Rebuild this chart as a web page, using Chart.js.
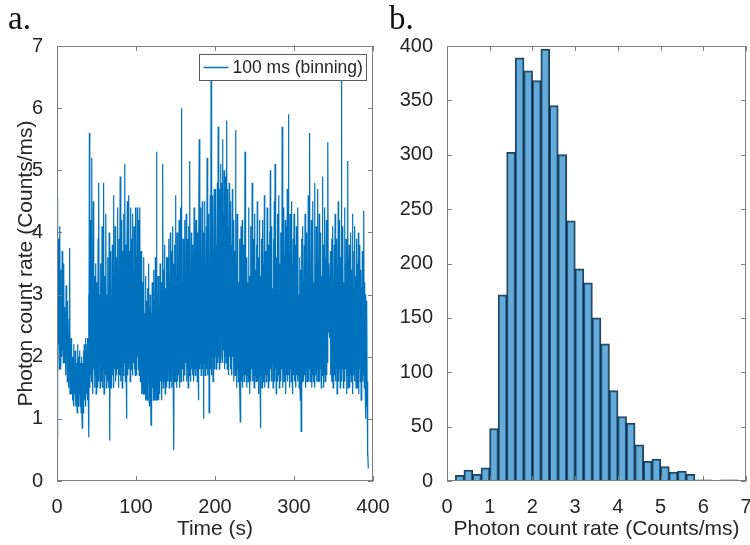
<!DOCTYPE html>
<html>
<head>
<meta charset="utf-8">
<script src="https://cdn.jsdelivr.net/npm/chart.js@4.4.1/dist/chart.umd.min.js"></script>
<style>
  html, body { margin: 0; padding: 0; background: #fff; }
  #page { position: relative; width: 750px; height: 545px; overflow: hidden; background: #fff; }
  .wrap { position: absolute; top: 0; }
  .tag { position: absolute; top: 2px; font-family: "Liberation Serif", "DejaVu Serif", serif; font-size: 33px; line-height: 33px; color: #111; }
</style>
</head>
<body>
<div id="page">
  <div class="wrap" style="left:0; width:400px; height:545px;"><canvas id="rateChart" width="400" height="545"></canvas></div>
  <div class="wrap" style="left:380px; width:370px; height:545px;"><canvas id="histChart" width="370" height="545"></canvas></div>
  <div class="tag" style="left:8px;">a.</div>
  <div class="tag" style="left:389px;">b.</div>
</div>
<script>
// photon count rate, 100 ms binning, read every 0.5 s off the trace
const sampleStep = 0.5;
const rateValues = [
  0.7, 4.55, 1.9, 3.9, 2.2, 3.0, 1.8, 4.1, 2.3, 3.4, 1.8, 2.9, 2.0, 3.7, 2.1, 3.1, 1.9, 3.5, 2.2, 2.8,
  1.9, 2.7, 1.7, 3.15, 2.0, 2.4, 1.6, 2.9, 1.8, 2.3, 1.5, 2.6, 3.75, 1.4, 2.2, 1.6, 2.3, 1.4, 2.0, 1.3,
  2.0, 1.3, 2.2, 1.2, 1.9, 1.4, 2.1, 1.2, 2.0, 1.3, 1.9, 1.1, 2.2, 1.3, 2.0, 1.2, 1.9, 1.4, 2.1, 1.2,
  1.9, 1.1, 2.0, 1.3, 0.85, 1.9, 1.1, 2.1, 1.2, 2.2, 1.3, 1.8, 2.3, 1.2, 2.1, 1.4, 2.2, 1.3, 2.3, 1.5,
  3.0, 0.7, 5.6, 1.5, 4.2, 1.7, 3.1, 1.6, 5.2, 1.9, 2.8, 1.4, 4.5, 1.8, 3.3, 1.5, 2.9, 1.7, 3.5, 1.4,
  3.2, 1.8, 2.7, 1.5, 3.9, 1.6, 4.8, 1.9, 3.0, 1.5, 3.5, 1.7, 2.8, 1.6, 4.1, 1.5, 3.1, 1.8, 4.8, 1.4,
  3.3, 1.6, 2.9, 1.7, 4.3, 1.5, 3.0, 1.8, 3.6, 1.6, 2.8, 1.5, 4.0, 1.7, 0.65, 3.2, 3.7, 1.5, 2.9, 1.6,
  3.8, 1.7, 3.1, 4.6, 1.5, 3.3, 1.8, 4.1, 1.6, 2.9, 3.6, 1.7, 3.0, 4.4, 1.8, 3.4, 1.5, 3.9, 1.7, 3.1,
  4.9, 1.6, 3.3, 1.8, 4.2, 1.5, 3.0, 3.7, 1.7, 4.3, 1.9, 3.2, 5.1, 1.6, 3.8, 1.8, 1.0, 3.4, 4.5, 1.7,
  3.5, 1.8, 4.6, 1.9, 3.7, 1.6, 3.2, 4.4, 1.8, 3.9, 2.0, 4.3, 1.7, 3.4, 1.9, 4.1, 1.8, 3.3, 1.7, 4.4,
  1.9, 3.6, 1.7, 4.4, 2.0, 3.3, 1.8, 4.2, 1.7, 3.1, 4.4, 1.6, 3.0, 3.7, 1.7, 1.4, 3.2, 1.8, 1.4, 2.9,
  3.6, 1.4, 2.7, 1.6, 3.3, 1.3, 2.9, 1.6, 1.3, 3.1, 1.5, 2.6, 3.5, 1.3, 2.8, 1.2, 3.0, 1.5, 0.9, 2.7,
  1.2, 3.2, 1.5, 2.8, 1.3, 3.4, 1.6, 2.9, 1.3, 3.6, 1.5, 1.3, 5.3, 1.4, 3.0, 1.3, 3.3, 1.6, 1.3, 2.8,
  1.4, 3.5, 1.6, 2.9, 3.2, 1.3, 3.0, 1.6, 5.1, 1.5, 3.4, 1.6, 2.8, 3.8, 1.4, 3.1, 1.6, 3.6, 1.5, 2.9,
  3.6, 1.6, 3.0, 3.9, 1.5, 3.2, 1.7, 4.0, 1.6, 3.3, 3.7, 1.5, 3.0, 4.1, 1.7, 3.5, 0.5, 3.1, 3.8, 1.6,
  4.6, 1.7, 3.3, 1.5, 4.0, 1.8, 1.6, 3.6, 1.7, 4.2, 1.5, 3.4, 1.8, 4.4, 1.6, 6.0, 1.7, 3.2, 1.8, 3.9,
  1.6, 3.4, 1.8, 4.2, 1.7, 3.1, 1.9, 4.3, 1.6, 3.5, 1.8, 3.9, 1.5, 3.2, 4.1, 1.7, 5.15, 1.8, 3.3, 1.6,
  4.0, 1.8, 3.4, 1.7, 3.8, 1.9, 1.6, 4.4, 1.8, 3.2, 1.7, 3.6, 4.2, 1.8, 3.3, 1.6, 4.0, 1.9, 1.3, 3.5,
  5.5, 1.8, 3.6, 1.9, 4.4, 1.7, 3.3, 2.0, 4.5, 1.8, 3.4, 1.0, 4.0, 1.9, 4.5, 1.7, 3.5, 2.0, 4.1, 1.8,
  5.2, 1.7, 3.7, 2.0, 4.3, 1.1, 3.5, 1.9, 4.6, 1.8, 6.45, 1.7, 3.9, 2.0, 4.6, 1.6, 3.6, 1.9, 4.7, 1.8,
  4.1, 2.0, 4.7, 1.8, 3.8, 2.1, 4.8, 1.9, 5.7, 2.0, 4.0, 1.8, 4.7, 2.1, 5.1, 1.9, 3.9, 4.8, 2.0, 5.5,
  1.9, 4.3, 2.1, 5.0, 1.8, 4.0, 2.0, 4.9, 1.9, 4.2, 5.8, 1.8, 4.7, 2.1, 4.1, 1.7, 4.8, 2.0, 3.9, 1.8,
  4.5, 1.9, 3.8, 1.7, 4.7, 2.0, 3.6, 1.6, 4.2, 1.8, 3.7, 1.7, 5.65, 1.9, 3.5, 1.5, 4.3, 1.8, 3.4, 1.6,
  3.2, 1.7, 3.9, 1.5, 0.95, 3.3, 4.1, 1.6, 3.0, 4.2, 1.5, 3.4, 1.7, 3.8, 1.6, 3.1, 5.3, 1.7, 3.5, 1.8,
  1.5, 3.6, 1.7, 3.2, 1.6, 4.4, 1.8, 3.3, 1.4, 3.0, 4.1, 1.6, 3.5, 1.8, 4.8, 1.6, 3.1, 1.7, 3.9, 1.5,
  3.0, 4.3, 1.7, 3.4, 1.6, 3.8, 1.8, 4.5, 1.6, 3.2, 1.4, 3.6, 1.7, 4.2, 1.6, 0.85, 3.3, 1.7, 3.9, 1.5,
  3.1, 4.2, 1.6, 3.5, 1.8, 4.6, 1.5, 3.2, 1.7, 3.7, 1.6, 3.0, 4.4, 1.7, 3.4, 1.5, 3.8, 1.8, 4.0, 1.6,
  5.0, 1.8, 3.4, 1.6, 4.1, 1.9, 3.1, 1.5, 3.9, 1.7, 4.5, 1.6, 5.1, 1.8, 3.3, 1.4, 3.6, 1.7, 4.3, 1.6,
  3.2, 1.7, 4.6, 1.5, 3.5, 1.8, 4.0, 1.6, 3.3, 1.8, 5.7, 1.5, 3.1, 1.7, 4.4, 1.6, 3.6, 1.8, 4.2, 1.4,
  3.0, 4.1, 1.7, 4.7, 1.6, 3.4, 5.9, 1.7, 3.7, 1.5, 4.3, 1.8, 3.2, 1.6, 4.5, 1.7, 3.5, 1.4, 3.9, 1.7,
  4.3, 1.6, 3.3, 1.8, 3.8, 1.5, 4.1, 1.7, 3.1, 1.6, 4.4, 1.7, 3.0, 1.5, 3.6, 1.8, 1.3, 3.4, 0.8, 3.0,
  3.9, 1.6, 4.1, 1.8, 3.2, 1.6, 3.8, 1.7, 4.3, 1.5, 3.4, 1.8, 4.0, 1.6, 3.1, 1.7, 4.6, 1.6, 3.7, 1.8,
  5.6, 1.6, 3.3, 1.8, 4.2, 1.5, 3.6, 1.7, 4.5, 1.6, 3.2, 1.8, 4.8, 1.5, 3.5, 1.7, 4.1, 1.6, 3.4, 1.8,
  4.7, 1.6, 3.5, 1.7, 4.3, 1.6, 3.1, 1.8, 4.0, 1.5, 3.3, 1.7, 4.9, 1.8, 3.8, 1.5, 3.2, 1.7, 4.4, 1.6,
  3.6, 1.8, 4.2, 1.7, 3.4, 1.9, 5.45, 2.4, 3.5, 2.5, 3.3, 2.3, 3.7, 1.7, 3.2, 1.6, 3.9, 1.6, 4.1, 1.5,
  3.2, 1.5, 3.8, 1.7, 4.3, 1.6, 3.3, 1.8, 3.9, 1.4, 3.4, 1.7, 4.5, 1.6, 3.1, 1.8, 4.2, 1.5, 3.6, 1.7,
  6.5, 1.6, 3.4, 1.8, 4.1, 1.5, 3.2, 1.7, 4.4, 1.6, 3.5, 1.8, 3.9, 1.4, 3.3, 1.7, 5.15, 1.5, 3.6, 1.7,
  3.8, 1.5, 3.2, 1.7, 4.0, 1.6, 3.4, 1.8, 4.3, 1.4, 3.1, 1.7, 3.7, 1.6, 4.1, 1.8, 3.3, 1.5, 3.9, 1.7,
  1.5, 3.5, 1.7, 4.0, 1.4, 3.2, 1.8, 3.8, 1.6, 3.4, 1.3, 3.1, 1.7, 3.7, 1.6, 3.3, 1.7, 4.35, 1.5, 3.2,
  1.6, 1.0, 3.0, 1.2, 2.9, 1.6, 0.4, 0.5, 0.2
];

// histogram of the same trace, bins of 0.2 Counts/ms
const binWidth = 0.2;
const binStarts = [0.2, 0.4, 0.6, 0.8, 1.0, 1.2, 1.4, 1.6, 1.8, 2.0, 2.2, 2.4, 2.6, 2.8, 3.0, 3.2, 3.4,
                   3.6, 3.8, 4.0, 4.2, 4.4, 4.6, 4.8, 5.0, 5.2, 5.4, 5.6, 5.8, 6.0, 6.2, 6.4, 6.6];
const binCounts = [5, 10, 6, 12, 48, 171, 302, 389, 377, 368, 397, 345, 300, 239, 195, 182, 150,
                   126, 83, 59, 53, 33, 18, 20, 13, 8, 9, 6, 1, 1, 0, 1, 1];

const timeTicks = [0, 100, 200, 300, 400];
const rateTicks = [0, 1, 2, 3, 4, 5, 6, 7];
const countTicks = [0, 50, 100, 150, 200, 250, 300, 350, 400];

const fontFamily = '"Liberation Sans", Arial, Helvetica, sans-serif';
const textColor = '#262626';
Chart.defaults.font.family = fontFamily;
Chart.defaults.color = textColor;

// MATLAB-style box with inward ticks on all four sides
const matlabFrame = {
  id: 'matlabFrame',
  afterDatasetsDraw(chart) {
    const { ctx, chartArea: a, scales } = chart;
    const len = 5;
    ctx.save();
    ctx.strokeStyle = '#7f7f7f';
    ctx.lineWidth = 1;
    ctx.beginPath();
    scales.x.ticks.forEach(t => {
      const px = Math.round(scales.x.getPixelForValue(t.value)) + 0.5;
      ctx.moveTo(px, a.bottom); ctx.lineTo(px, a.bottom - len);
      ctx.moveTo(px, a.top); ctx.lineTo(px, a.top + len);
    });
    scales.y.ticks.forEach(t => {
      const py = Math.round(scales.y.getPixelForValue(t.value)) + 0.5;
      ctx.moveTo(a.left, py); ctx.lineTo(a.left + len, py);
      ctx.moveTo(a.right, py); ctx.lineTo(a.right - len, py);
    });
    ctx.stroke();
    ctx.strokeRect(Math.round(a.left) + 0.5, Math.round(a.top) + 0.5,
                   Math.round(a.width) - 1, Math.round(a.height) - 1);
    ctx.restore();
  }
};

// boxed legend in the upper right corner, like MATLAB's 'northeast'
const boxedLegend = {
  id: 'boxedLegend',
  afterDatasetsDraw(chart) {
    const { ctx, chartArea: a } = chart;
    const ds = chart.data.datasets[0];
    ctx.save();
    ctx.font = '17.5px ' + fontFamily;
    const textW = ctx.measureText(ds.label).width;
    const right = Math.round(a.right - 7) + 0.5;
    const left = Math.round(right - (33 + textW + 4)) + 0.5;
    const top = Math.round(a.top + 8) + 0.5;
    const h = 26;
    ctx.fillStyle = '#fff';
    ctx.fillRect(left, top, right - left, h);
    ctx.strokeStyle = '#5a5a5a';
    ctx.lineWidth = 1;
    ctx.strokeRect(left, top, right - left, h);
    ctx.strokeStyle = ds.borderColor;
    ctx.lineWidth = 1.5;
    ctx.beginPath();
    ctx.moveTo(left + 4, top + h / 2);
    ctx.lineTo(left + 29, top + h / 2);
    ctx.stroke();
    ctx.fillStyle = textColor;
    ctx.textBaseline = 'middle';
    ctx.fillText(ds.label, left + 33, top + h / 2 + 0.5);
    ctx.restore();
  }
};

function noEdgePadding(scale) {
  scale.paddingLeft = 0;
  scale.paddingRight = 0;
}

new Chart(document.getElementById('rateChart'), {
  type: 'line',
  data: {
    datasets: [{
      label: '100 ms (binning)',
      data: rateValues.map((v, i) => ({ x: i * sampleStep, y: v })),
      borderColor: '#0072BD',
      borderWidth: 1.2,
      pointRadius: 0,
      tension: 0,
      fill: false
    }]
  },
  options: {
    responsive: false,
    animation: false,
    layout: { padding: { top: 46, right: 27, bottom: 0, left: 0 } },
    plugins: { legend: { display: false }, tooltip: { enabled: false } },
    scales: {
      x: {
        type: 'linear', min: 0, max: 400,
        afterBuildTicks: s => { s.ticks = timeTicks.map(v => ({ value: v })); },
        ticks: { padding: 6, font: { size: 20 }, color: textColor },
        grid: { display: false }, border: { display: false },
        title: { display: true, text: 'Time (s)', font: { size: 21 }, color: textColor, padding: { top: 0, bottom: 3 } },
        afterFit: s => { s.height = 64; noEdgePadding(s); }
      },
      y: {
        min: 0, max: 7,
        afterBuildTicks: s => { s.ticks = rateTicks.map(v => ({ value: v })); },
        ticks: { padding: 6, font: { size: 20 }, color: textColor },
        grid: { display: false }, border: { display: false },
        title: { display: true, text: 'Photon count rate (Counts/ms)', font: { size: 21 }, color: textColor, padding: { top: 14, bottom: 0 } },
        afterFit: s => { s.width = 57; }
      }
    }
  },
  plugins: [matlabFrame, boxedLegend]
});

new Chart(document.getElementById('histChart'), {
  type: 'bar',
  data: {
    datasets: [{
      label: 'Counts',
      data: binCounts.map((c, i) => ({ x: binStarts[i] + binWidth / 2, y: c })),
      backgroundColor: 'rgba(0, 114, 189, 0.6)',
      borderColor: 'rgba(15, 25, 35, 0.85)',
      borderWidth: 1,
      inflateAmount: 0.5,
      barPercentage: 1,
      categoryPercentage: 1
    }]
  },
  options: {
    responsive: false,
    animation: false,
    layout: { padding: { top: 46, right: 4, bottom: 0, left: 0 } },
    plugins: { legend: { display: false }, tooltip: { enabled: false } },
    scales: {
      x: {
        type: 'linear', min: 0, max: 7, offset: false,
        afterBuildTicks: s => { s.ticks = rateTicks.map(v => ({ value: v })); },
        ticks: { padding: 6, font: { size: 20 }, color: textColor },
        grid: { display: false }, border: { display: false },
        title: { display: true, text: 'Photon count rate (Counts/ms)', font: { size: 21 }, color: textColor, padding: { top: 0, bottom: 3 } },
        afterFit: s => { s.height = 64; noEdgePadding(s); }
      },
      y: {
        min: 0, max: 400,
        afterBuildTicks: s => { s.ticks = countTicks.map(v => ({ value: v })); },
        ticks: { padding: 6, font: { size: 20 }, color: textColor },
        grid: { display: false }, border: { display: false },
        afterFit: s => { s.width = 67; }
      }
    }
  },
  plugins: [matlabFrame]
});
</script>
</body>
</html>
